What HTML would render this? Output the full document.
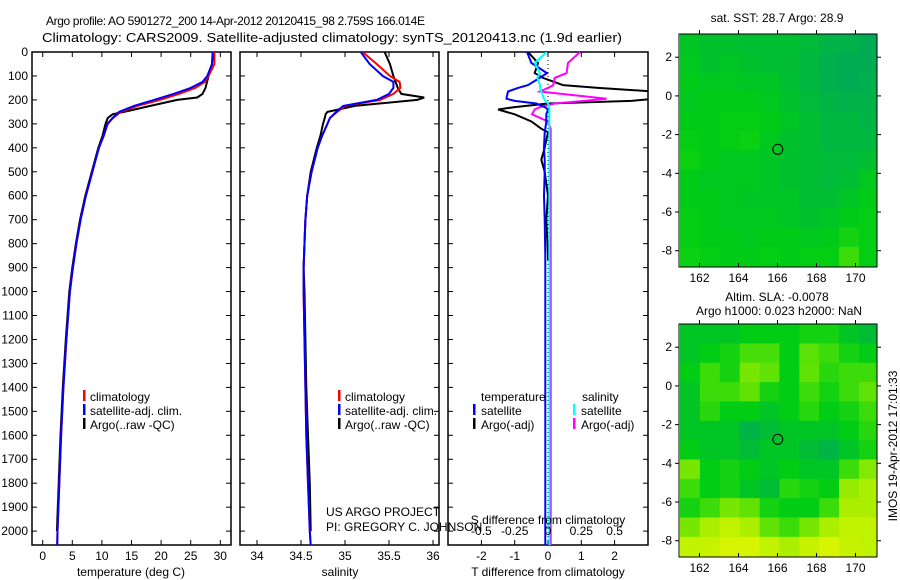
<!DOCTYPE html>
<html><head><meta charset="utf-8">
<style>
html,body{margin:0;padding:0;background:#fff;}
svg{display:block;font-family:"Liberation Sans",sans-serif;}
text{font-size:12px;fill:#000;}
</style></head>
<body>
<svg id="fig" width="900" height="580" viewBox="0 0 900 580">
<text x="46" y="25" textLength="379" lengthAdjust="spacing" style="font-size:12px">Argo profile: AO 5901272_200 14-Apr-2012 20120415_98 2.759S 166.014E</text>
<text x="42" y="42" textLength="580" lengthAdjust="spacingAndGlyphs" style="font-size:12.5px">Climatology: CARS2009. Satellite-adjusted climatology: synTS_20120413.nc (1.9d earlier)</text>
<g id="plots"></g>
</svg>
<script>
// ---------- DATA ----------
const tDepth = [0,50,100,125,150,175,200,225,250,275,300,350,400,500,600,700,800,900,1000,1200,1400,1600,1800,2000,2060];
const tClim  = [29.0,29.0,28.0,27.4,25.8,23.0,19.8,16.0,13.2,11.9,11.0,10.3,9.5,8.4,7.3,6.4,5.7,5.1,4.6,4.0,3.5,3.1,2.8,2.5,2.45];
const tSat   = [28.7,28.6,27.8,27.0,25.0,22.1,18.8,15.4,12.9,11.8,10.9,10.3,9.5,8.4,7.3,6.4,5.7,5.1,4.6,4.0,3.5,3.1,2.8,2.5,2.45];
const aDepth = [0,50,100,150,175,190,200,225,250,260,275,300,350,400,500,600,700,800,900,1000,1200,1400,1600,1800,2000];
const tArgo  = [28.8,28.6,28.0,27.5,27.0,26.1,22.7,18.2,13.7,11.8,11.0,10.6,10.1,9.4,8.3,7.2,6.3,5.6,5.0,4.5,3.9,3.4,3.0,2.7,2.4];
const sClim  = [35.2,35.36,35.51,35.62,35.63,35.55,35.4,35.0,34.91,34.83,34.8,34.74,34.69,34.62,34.57,34.55,34.54,34.53,34.53,34.54,34.55,34.56,34.58,34.6,34.61];
const sSat   = [35.18,35.28,35.43,35.55,35.55,35.5,35.36,34.98,34.9,34.83,34.8,34.74,34.69,34.62,34.57,34.55,34.54,34.53,34.53,34.54,34.55,34.56,34.58,34.6,34.61];
const sArgo  = [35.45,35.51,35.55,35.6,35.64,35.9,35.82,35.11,34.8,34.78,34.77,34.75,34.72,34.68,34.61,34.57,34.55,34.54,34.53,34.54,34.55,34.56,34.58,34.6,34.61];
const dDepth = [0,46,88,108,138,150,165,195,204,215,230,240,260,290,320,335,400,450,500,600,700,850];
const dTSat  = [-0.63,-0.5,-0.03,-0.25,-0.6,-0.9,-1.2,-1.25,-1.0,-0.35,-0.1,0,-0.05,-0.05,-0.08,-0.1,-0.12,-0.1,-0.1,-0.12,-0.1,-0.08];
const dTArgo = [-0.6,-0.3,-0.4,-0.15,0.45,1.5,3.2,3.2,2.5,0,-1.0,-1.5,-1.0,-0.5,-0.2,0,-0.1,-0.2,-0.1,0,-0.05,0];
const dSSat  = [-0.01,-0.1,-0.06,-0.08,-0.06,-0.06,-0.05,-0.03,-0.02,0,0.01,0.01,0.01,0.01,0.01,0.01,0.01,0.01,0.01,0.01,0.01,0.01];
const dSArgo = [0.24,0.15,0.14,0.05,0.04,0.0,-0.06,0.44,0.27,0.05,-0.06,-0.1,-0.12,0,0.02,0.02,0.02,0.02,0.02,0.02,0.02,0.02];
const depthTicks = [0,100,200,300,400,500,600,700,800,900,1000,1100,1200,1300,1400,1500,1600,1700,1800,1900,2000];
const tTicks = [0,5,10,15,20,25,30];
const sTicks = [34,34.5,35,35.5,36];
const sTickLabels = ["34","34.5","35","35.5","36"];
const dtTicks = [-2,-1,0,1,2];
const dsTicks = [-0.5,-0.25,0,0.25,0.5];
const dsTickLabels = ["-0.5","-0.25","0","0.25","0.5"];
const lonTicks = [162,164,166,168,170];
const latTicks = [2,0,-2,-4,-6,-8];
const sstGrid = [
[0.40,0.38,0.38,0.36,0.36,0.36,0.34,0.30,0.28,0.22],
[0.42,0.38,0.40,0.38,0.36,0.35,0.32,0.26,0.22,0.22],
[0.44,0.42,0.42,0.40,0.40,0.36,0.32,0.26,0.22,0.26],
[0.42,0.44,0.44,0.44,0.42,0.38,0.34,0.30,0.28,0.28],
[0.44,0.44,0.46,0.46,0.44,0.40,0.36,0.32,0.32,0.30],
[0.46,0.44,0.46,0.48,0.42,0.38,0.36,0.32,0.32,0.32],
[0.48,0.44,0.42,0.42,0.40,0.38,0.36,0.34,0.34,0.36],
[0.44,0.42,0.42,0.42,0.40,0.38,0.36,0.34,0.36,0.42],
[0.44,0.44,0.42,0.40,0.40,0.40,0.36,0.36,0.40,0.44],
[0.46,0.44,0.42,0.42,0.42,0.40,0.38,0.40,0.44,0.46],
[0.46,0.44,0.44,0.42,0.44,0.44,0.42,0.44,0.50,0.46],
[0.48,0.46,0.44,0.44,0.46,0.44,0.46,0.46,0.60,0.46]];
const slaGrid = [
[0.40,0.40,0.40,0.45,0.45,0.45,0.50,0.50,0.40,0.35],
[0.40,0.45,0.50,0.62,0.62,0.45,0.65,0.60,0.50,0.45],
[0.45,0.60,0.50,0.70,0.66,0.45,0.66,0.55,0.60,0.60],
[0.40,0.60,0.60,0.66,0.50,0.45,0.60,0.50,0.60,0.66],
[0.40,0.55,0.45,0.45,0.40,0.45,0.55,0.45,0.50,0.60],
[0.40,0.40,0.40,0.30,0.35,0.40,0.40,0.40,0.45,0.55],
[0.45,0.40,0.40,0.35,0.40,0.40,0.35,0.30,0.40,0.50],
[0.70,0.45,0.50,0.45,0.40,0.45,0.40,0.40,0.60,0.72],
[0.60,0.45,0.50,0.40,0.35,0.55,0.50,0.45,0.75,0.80],
[0.50,0.60,0.70,0.66,0.50,0.45,0.45,0.60,0.80,0.80],
[0.70,0.80,0.85,0.80,0.66,0.60,0.70,0.80,0.85,0.85],
[0.85,0.86,0.90,0.90,0.85,0.80,0.86,0.90,0.86,0.85]];

// ---------- DRAW ----------
const NS='http://www.w3.org/2000/svg';
const root=document.getElementById('plots');
function mk(tag,attrs,parent){const e=document.createElementNS(NS,tag);for(const k in attrs)e.setAttribute(k,attrs[k]);(parent||root).appendChild(e);return e;}
function txt(x,y,s,anchor,parent){const t=mk('text',{x:x,y:y,'text-anchor':anchor||'start'},parent);t.textContent=s;return t;}

const yTop=52, yBot=545;
const yD=d=>yTop+(d/2058)*(yBot-yTop);

function frame(x0,x1,name){
  const r=mk('rect',{x:x0,y:yTop,width:x1-x0,height:yBot-yTop,fill:'none',stroke:'#000','stroke-width':1.5});
  
  
  depthTicks.forEach(d=>{const y=yD(d);mk('line',{x1:x0,x2:x0+5,y1:y,y2:y,stroke:'#000'});mk('line',{x1:x1-5,x2:x1,y1:y,y2:y,stroke:'#000'});});
}
function clip(id,x0,x1){const c=mk('clipPath',{id:id});mk('rect',{x:x0,y:yTop,width:x1-x0,height:yBot-yTop},c);return mk('g',{'clip-path':'url(#'+id+')'});}
function series(g,list){
  list.forEach(a=>{
    const pts=a[1].map((v,i)=>a[4](v).toFixed(1)+','+yD(a[2][i]).toFixed(1)).join(' ');
    const p=mk('polyline',{points:pts,fill:'none',stroke:a[0],'stroke-width':2},g);
    
    
  });
}

// Panel 1
const p1x0=32,p1x1=231;const fT=v=>42.7+v*5.92;
frame(p1x0,p1x1,'temperature-panel-frame');
depthTicks.forEach(d=>{const t=txt(28,yD(d)+4,String(d),'end');});
tTicks.forEach(v=>{const x=fT(v);mk('line',{x1:x,x2:x,y1:yBot,y2:yBot-5,stroke:'#000'});mk('line',{x1:x,x2:x,y1:yTop,y2:yTop+5,stroke:'#000'});const t=txt(x,560,String(v),'middle');});
{const t=txt(131,576,'temperature (deg C)','middle');}
series(clip('c1',p1x0,p1x1),[['#000',tArgo,aDepth,'argo-temperature-line',fT],['#f00',tClim,tDepth,'clim-temperature-line',fT],['#00f',tSat,tDepth,'sat-temperature-line',fT]]);

function legend(x,items,pname){
  items.forEach((it,i)=>{const y=401+i*14;
    const b=mk('rect',{x:x,y:y-11,width:2.5,height:11,fill:it[0]});
    
    
    const t=txt(x+7,y,it[1]);
    
    });
}
legend(83,[['#f00','climatology'],['#00f','satellite-adj. clim.'],['#000','Argo(..raw -QC)']],'temperature');

// Panel 2
const p2x0=240,p2x1=439;const fS=v=>257+(v-34)*88;
frame(p2x0,p2x1,'salinity-panel-frame');
sTicks.forEach((v,i)=>{const x=fS(v);mk('line',{x1:x,x2:x,y1:yBot,y2:yBot-5,stroke:'#000'});mk('line',{x1:x,x2:x,y1:yTop,y2:yTop+5,stroke:'#000'});const t=txt(x,560,sTickLabels[i],'middle');});
{const t=txt(340,576,'salinity','middle');}
series(clip('c2',p2x0,p2x1),[['#000',sArgo,aDepth,'argo-salinity-line',fS],['#f00',sClim,tDepth,'clim-salinity-line',fS],['#00f',sSat,tDepth,'sat-salinity-line',fS]]);
legend(338,[['#f00','climatology'],['#00f','satellite-adj. clim.'],['#000','Argo(..raw -QC)']],'salinity');
{const t=txt(326,516,'US ARGO PROJECT');
 const t2=txt(326,531,'PI: GREGORY C. JOHNSON');}

// Panel 3
const p3x0=448,p3x1=648;const fDT=v=>548+v*33.3;const fDS=v=>548+v*133.2;
frame(p3x0,p3x1,'difference-panel-frame');
dtTicks.forEach(v=>{const x=fDT(v);mk('line',{x1:x,x2:x,y1:yBot,y2:yBot-5,stroke:'#000'});mk('line',{x1:x,x2:x,y1:yTop,y2:yTop+5,stroke:'#000'});const t=txt(x,560,String(v),'middle');});
mk('line',{x1:548,x2:548,y1:yTop,y2:yBot,stroke:'#000','stroke-dasharray':'1,3'});
{const g=clip('c3',p3x0,p3x1);
 [['#000',dTArgo,fDT,'argo-tdiff-line',yD(870)],['#f0f',dSArgo,fDS,'argo-sdiff-line',yBot],['#00f',dTSat,fDT,'sat-tdiff-line',yBot],['#0ff',dSSat,fDS,'sat-sdiff-line',yBot]].forEach(a=>{
  const pts=a[1].map((v,i)=>a[2](v).toFixed(1)+','+yD(dDepth[i]).toFixed(1)).join(' ');
  const ext=' '+a[2](a[1][a[1].length-1]).toFixed(1)+','+a[4];
  const p=mk('polyline',{points:pts+ext,fill:'none',stroke:a[0],'stroke-width':2},g);
  
  
 });}
dsTicks.forEach((v,i)=>{const t=txt(fDS(v),535,dsTickLabels[i],'middle');});
{const t=txt(548,524,'S difference from climatology','middle');
 const t2=txt(548,576,'T difference from climatology','middle');}
{const lt=txt(481,401,'temperature');
 const ls=txt(582,401,'salinity');
 [['#00f','satellite',473,415],['#000','Argo(-adj)',473,429],['#0ff','satellite',573,415],['#f0f','Argo(-adj)',573,429]].forEach(it=>{
  const b=mk('rect',{x:it[2],y:it[3]-11,width:2.5,height:11,fill:it[0]});
  
  
  const t=txt(it[2]+8,it[3],it[1]);
  
  });}

// Maps
const stops=[[0,[0,150,120]],[0.3,[0,180,70]],[0.45,[0,205,20]],[0.6,[60,220,10]],[0.75,[150,235,0]],[0.9,[215,245,0]],[1,[240,230,0]]];
function cmap(v){for(let i=1;i<stops.length;i++){if(v<=stops[i][0]){const a=stops[i-1],b=stops[i];const t=(v-a[0])/(b[0]-a[0]);return 'rgb('+a[1].map((c,k)=>Math.round(c+(b[1][k]-c)*t)).join(',')+')';}}return 'rgb(240,230,0)';}
function drawMap(y0,grid,name){
  const x0=679,x1=877,y1=y0+233;
  const fx=lon=>680+(lon-161)*19.5;
  const fy=lat=>y0+(3.2-lat)*19.35;
  const g=mk('g',{});
  
  
  const cp=mk('clipPath',{id:'cm'+y0},g);mk('rect',{x:x0,y:y0,width:x1-x0,height:y1-y0},cp);
  const gg=mk('g',{'clip-path':'url(#cm'+y0+')'},g);
  const cols=grid[0].length;
  grid.forEach((row,r)=>row.forEach((v,c)=>{
    const xa=fx(161+c*(10.2/cols)),xb=fx(161+(c+1)*(10.2/cols));
    const ya=fy(3.2-r),yb=fy(3.2-(r+1));
    const cell=mk('rect',{x:xa.toFixed(1),y:ya.toFixed(1),width:(xb-xa+0.6).toFixed(1),height:(yb-ya+0.6).toFixed(1),fill:cmap(v)},gg);
    
    
  }));
  mk('rect',{x:x0,y:y0,width:x1-x0,height:y1-y0,fill:'none',stroke:'#000','stroke-width':1},g);
  lonTicks.forEach(l=>{const x=fx(l);mk('line',{x1:x,x2:x,y1:y1,y2:y1-4,stroke:'#000'},g);mk('line',{x1:x,x2:x,y1:y0,y2:y0-4,stroke:'#000'},g);const t=txt(x,y1+15,String(l),'middle',g);});
  latTicks.forEach(l=>{const y=fy(l);mk('line',{x1:x0-4,x2:x0,y1:y,y2:y,stroke:'#000'},g);mk('line',{x1:x1,x2:x1+4,y1:y,y2:y,stroke:'#000'},g);const t=txt(x0-7,y+4,String(l),'end',g);});
  const m=mk('circle',{cx:fx(166.014),cy:fy(-2.759),r:5,fill:'none',stroke:'#000','stroke-width':1},g);
  
  
}
drawMap(34,sstGrid,'sst-map');
drawMap(324,slaGrid,'sla-map');
{const t=txt(777,22,'sat. SST: 28.7 Argo: 28.9','middle');
 const t2=txt(777,301,'Altim. SLA: -0.0078','middle');
 const t3=txt(779,315,'Argo h1000: 0.023 h2000: NaN','middle');
 const t4=txt(0,0,'IMOS 19-Apr-2012 17:01:33','middle');t4.setAttribute('transform','translate(897,446) rotate(-90)');}
</script>
</body></html>
